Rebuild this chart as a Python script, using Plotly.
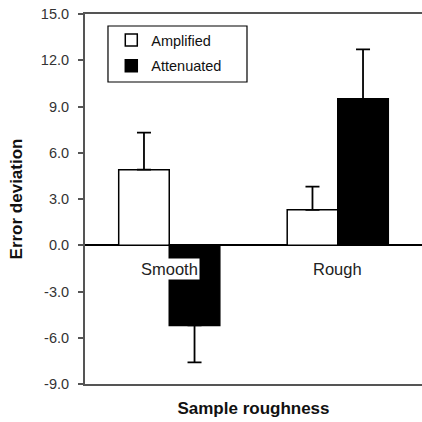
import plotly.graph_objects as go

categories = ["Smooth", "Rough"]
amplified = [4.9, 2.3]
attenuated = [-5.2, 9.5]
amplified_err = [2.4, 1.5]
attenuated_err = [2.4, 3.2]
y_ticks = [-9, -6, -3, 0, 3, 6, 9, 12, 15]
y_tick_labels = ["-9.0", "-6.0", "-3.0", "0.0", "3.0", "6.0", "9.0", "12.0", "15.0"]


def err_up(vals, errs):
    return [e if v >= 0 else 0 for v, e in zip(vals, errs)]


def err_down(vals, errs):
    return [e if v < 0 else 0 for v, e in zip(vals, errs)]


FONT = "Liberation Sans, Arial, sans-serif"

fig = go.Figure()
fig.add_trace(go.Bar(
    name="Amplified", x=categories, y=amplified,
    marker=dict(color="white", line=dict(color="black", width=1.5)),
    error_y=dict(type="data", symmetric=False,
                 array=err_up(amplified, amplified_err),
                 arrayminus=err_down(amplified, amplified_err),
                 color="black", thickness=1.8, width=7),
    legendgroup="a",
))
fig.add_trace(go.Bar(
    name="Attenuated", x=categories, y=attenuated,
    marker=dict(color="black", line=dict(color="black", width=1.5)),
    error_y=dict(type="data", symmetric=False,
                 array=err_up(attenuated, attenuated_err),
                 arrayminus=err_down(attenuated, attenuated_err),
                 color="black", thickness=1.8, width=7),
    legendgroup="b",
))

for c in categories:
    fig.add_annotation(x=c, y=0, xref="x", yref="y", text=c, showarrow=False,
                       yanchor="top", yshift=-13, bgcolor="white",
                       font=dict(family=FONT, size=16.5, color="#222"))

# legend frame
fig.add_shape(type="rect", xref="paper", yref="paper",
              x0=0.0682, x1=0.4807, y0=0.8162, y1=0.9676,
              line=dict(color="black", width=1.2), fillcolor="white", layer="below")

fig.update_layout(
    width=422, height=422,
    margin=dict(l=85, r=0, t=14, b=38),
    paper_bgcolor="white", plot_bgcolor="white",
    barmode="group", bargap=0.4, bargroupgap=0,
    showlegend=True,
    legend=dict(x=0.078, y=0.973, xanchor="left", yanchor="top",
                borderwidth=0, bgcolor="rgba(0,0,0,0)",
                font=dict(family=FONT, size=14.5, color="#111"),
                tracegroupgap=4, itemwidth=30),
    font=dict(family=FONT, color="#222"),
)
fig.update_xaxes(
    range=[-0.5, 1.5], showticklabels=False, ticks="",
    showline=True, linecolor="#555", linewidth=2, mirror=True,
    showgrid=False, zeroline=False, automargin=False,
    title=dict(text="<b>Sample roughness</b>", standoff=17,
               font=dict(family=FONT, size=17, color="#111")),
)
fig.update_yaxes(
    range=[-9, 15], tickvals=y_ticks, ticktext=y_tick_labels,
    ticks="outside", ticklen=5, tickcolor="#555", tickwidth=1.5,
    ticklabelstandoff=6,
    showline=True, linecolor="#555", linewidth=2, mirror=False,
    showgrid=False, zeroline=True, zerolinecolor="black", zerolinewidth=1.5,
    automargin=False,
    tickfont=dict(family=FONT, size=14.5, color="#333"),
    title=dict(text="<b>Error deviation</b>", standoff=14,
               font=dict(family=FONT, size=17, color="#111")),
)

fig.write_html("out.html", config={"displayModeBar": False},
               post_script="document.body.style.margin='0';document.body.style.overflow='hidden';")
